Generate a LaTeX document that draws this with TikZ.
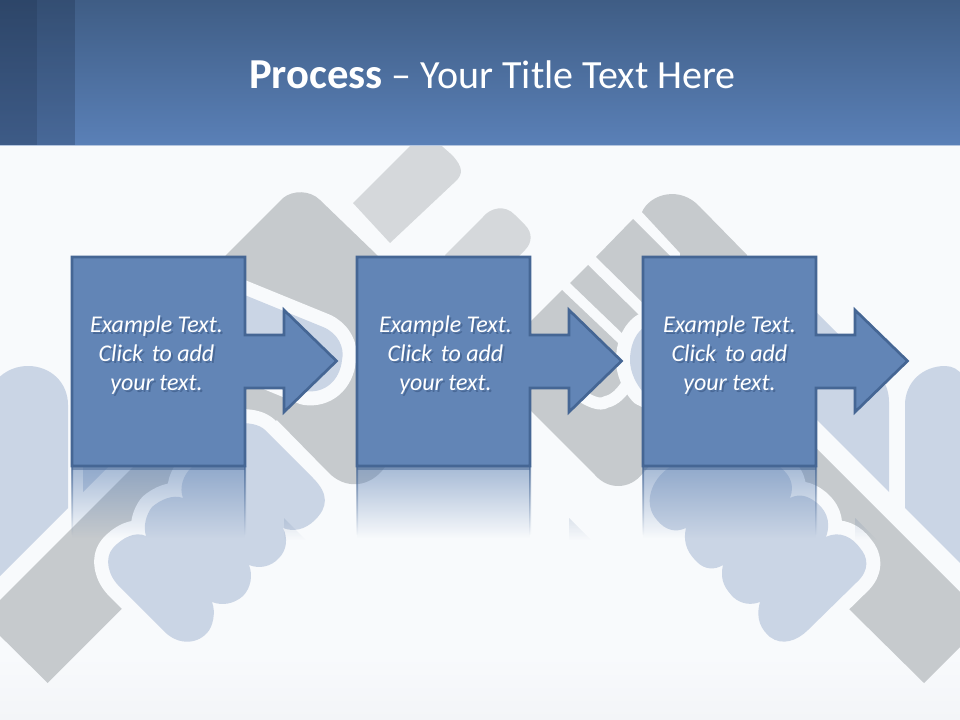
\documentclass[tikz,border=0pt]{standalone}
\usepackage{fontspec}
\setmainfont{Carlito}
\usetikzlibrary{fadings,shadings}
\definecolor{bgbot}{HTML}{F3F5F8}
\definecolor{bgc}{HTML}{F8FAFC}
\definecolor{hdtop}{HTML}{3F5D85}
\definecolor{hdbot}{HTML}{5A80B7}
\definecolor{strip}{HTML}{14243F}
\definecolor{greyA}{HTML}{C6CACD}
\definecolor{greyB}{HTML}{D5D8DB}
\definecolor{paleblue}{HTML}{CAD5E5}
\definecolor{boxfill}{HTML}{6285B6}
\definecolor{boxline}{HTML}{456694}
\definecolor{shadowc}{HTML}{25406A}
\tikzfading[name=reflfade, top color=transparent!45, bottom color=transparent!100]
\tikzfading[name=edgefade, top color=transparent!30, bottom color=transparent!100]
\tikzfading[name=trifade, top color=transparent!85, bottom color=transparent!100]
\tikzset{
  greyshape/.style={fill=greyA},
  lightshape/.style={fill=greyB},
  blueshape/.style={fill=paleblue},
  halo/.style={draw=bgc,line width=21pt,line join=round},
  boxarrow/.style={fill=boxfill,draw=boxline,line width=2pt,line join=miter},
  bodytext/.style={text=white,align=center,inner sep=0pt,font=\fontsize{18}{21.75}\selectfont\itshape},
  bodyshadow/.style={text=shadowc,text opacity=.4,align=center,inner sep=0pt,font=\fontsize{18}{21.75}\selectfont\itshape},
  reflect/.style={fill=boxfill,path fading=reflfade},
  reflectedge/.style={fill=boxline,path fading=edgefade},
  reflecttri/.style={fill=boxline,path fading=trifade},
}
\newcommand{\bodylines}{Example Text.\\Click\hspace{2.5pt} to add\\your text.}
\newcommand{\leftfist}{(200,440) -- (192,467)
 .. controls (183,475) and (179,488) .. (183,498)
 .. controls (173,494) and (160,500) .. (152,507)
 .. controls (146,515) and (143,526) .. (146,536)
 .. controls (135,531) and (122,538) .. (113,548)
 .. controls (104,558) and (108,576) .. (120,587)
 -- (163,630) .. controls (175,644) and (195,646) .. (207,633)
 .. controls (213,627) and (216,612) .. (212,602)
 .. controls (222,606) and (234,604) .. (243,596)
 .. controls (251,588) and (253,575) .. (249,565)
 .. controls (259,569) and (271,567) .. (279,558)
 .. controls (287,550) and (288,538) .. (283,528)
 .. controls (293,532) and (305,530) .. (315,520)
 .. controls (328,507) and (329,494) .. (313,478)
 -- (267,432) .. controls (262,426) and (254,423) .. (240,423) -- cycle}
\newcommand{\rightfist}{(690,440) -- (670,467)
 .. controls (650,480) and (643,505) .. (657,520)
 .. controls (665,530) and (675,533) .. (686,528)
 .. controls (682,545) and (690,555) .. (697,562)
 .. controls (705,570) and (715,570) .. (723,565)
 .. controls (719,582) and (727,590) .. (733,597)
 .. controls (742,605) and (752,605) .. (760,602)
 .. controls (755,620) and (762,630) .. (770,637)
 .. controls (782,646) and (797,641) .. (808,630)
 -- (857,582) .. controls (870,570) and (868,557) .. (860,548)
 .. controls (853,538) and (840,530) .. (826,537)
 .. controls (832,520) and (825,508) .. (813,500)
 .. controls (805,495) and (798,494) .. (790,498)
 .. controls (795,485) and (790,475) .. (780,467)
 -- (760,440) -- cycle}
\newcommand{\leftthumb}{(225,287) -- (323,327)
 .. controls (338,333) and (345,348) .. (342,360)
 .. controls (340,380) and (325,394) .. (305,391)
 -- (225,358) -- cycle}
\newcommand{\rightthumb}{(660,318) -- (643,328)
 .. controls (634,335) and (630,348) .. (630,360)
 .. controls (630,372) and (636,384) .. (643,392)
 -- (660,400) -- cycle}
\begin{document}
\begin{tikzpicture}[x=.75pt,y=-.75pt]
\useasboundingbox (0,0) rectangle (960,720);
% page
\fill[bgc] (0,0) rectangle (960,720);
\shade[top color=bgc,bottom color=bgbot] (0,655) rectangle (960,720);
% pale bars
\fill[blueshape] (-12,588) -- (68,508) -- (68,405) .. controls (68,382) and (50,366) .. (28,366) .. controls (8,366) and (-12,380) .. (-12,405) -- cycle;
\fill[blueshape] (83,400) -- (83,492) -- (170,405) -- (170,400) -- cycle;
\fill[blueshape] (800,296) -- (862,358) .. controls (880,372) and (889,385) .. (889,402) -- (889,492) -- (800,403) -- cycle;
\fill[blueshape] (970,405) -- (970,573) -- (905,508) -- (905,405) .. controls (905,382) and (923,366) .. (945,366) .. controls (960,366) and (970,380) .. (970,405) -- cycle;
% light grey bars
\fill[lightshape] (353,203) -- (415,141) -- (435,140) -- (452,155) .. controls (464,168) and (462,174) .. (457,180) -- (390,243) -- cycle;
\fill[lightshape] (445,255) -- (483,217) .. controls (490,208) and (505,204) .. (515,215) -- (525,225) .. controls (533,233) and (532,243) .. (525,250) -- (510,265) -- (450,265) -- cycle;
% grey hands
\fill[greyshape] (-18,618) -- (133,467) -- (160,420) -- (200,300) -- (226,255) -- (283,198)
  .. controls (293,190) and (310,190) .. (320,200) -- (377,255) -- (420,300) -- (420,420) -- (385,467)
  .. controls (370,488) and (345,490) .. (328,472) -- (277,420) -- (190,480) -- (190,540) -- (121.7,609) -- (47.7,683) -- cycle;
\fill[greyshape] (642,212) .. controls (650,194) and (680,185) .. (700,207) -- (747,255) -- (747,300) -- (680,300) -- (680,253) -- cycle;
\fill[greyshape] (596,257) -- (633,219) -- (700,286) -- (660,320) -- (643,303) -- cycle;
\fill[greyshape] (570,283) -- (588,265) -- (639,315) -- (622,333) -- cycle;
\fill[greyshape] (500,352) -- (562,290) -- (620,345) -- (660,400) -- (660,455) -- (643,473)
  .. controls (630,490) and (608,490) .. (595,475) -- (530,410) -- cycle;
\fill[greyshape] (816,448) -- (965,597) -- (965,642) -- (924,683) -- (850,610) -- (790,540) -- (780,470) -- cycle;
% white arc round the finger tip
\draw[draw=bgc,line width=9pt,line cap=butt] (575,392) .. controls (590,402) and (600,406) .. (606,402) .. controls (615,400) and (622,393) .. (630,380);
% thumbs and fists with pale outlines
\draw[halo] \leftthumb;
\fill[blueshape] \leftthumb;
\draw[halo] \rightthumb;
\fill[blueshape] \rightthumb;
\draw[halo] \leftfist;
\fill[blueshape] \leftfist;
\draw[halo] \rightfist;
\fill[blueshape] \rightfist;
% header
\shade[top color=hdtop,bottom color=hdbot] (0,0) rectangle (960,145);
\fill[strip,opacity=.4] (0,0) rectangle (37,145);
\fill[strip,opacity=.25] (37,0) rectangle (75,145);
\fill[fill=hdbot!45!white] (0,145) rectangle (960,146.2);
\node[text=white,inner sep=0pt,anchor=base] (title) at (492.5,88.5) {\fontsize{32}{36}\selectfont\textbf{Process}\fontsize{30}{36}\selectfont\ – Your Title Text Here};
% reflections
\fill[reflect] (72,466) rectangle (245,538);
\fill[reflect] (357,466) rectangle (530,538);
\fill[reflect] (643,466) rectangle (816,538);
\fill[reflectedge] (71,466) rectangle (73,535) (244,466) rectangle (246,535);
\fill[reflectedge] (356,466) rectangle (358,535) (529,466) rectangle (531,535);
\fill[reflectedge] (642,466) rectangle (644,535) (815,466) rectangle (817,535);
\fill[boxline,opacity=.5] (72,466) rectangle (245,470);
\fill[boxline,opacity=.5] (357,466) rectangle (530,470);
\fill[boxline,opacity=.5] (643,466) rectangle (816,470);
\fill[reflecttri] (284,518) -- (306,540) -- (284,540) -- cycle;
\fill[reflecttri] (569,518) -- (591,540) -- (569,540) -- cycle;
\fill[reflecttri] (855,518) -- (877,540) -- (855,540) -- cycle;
% process boxes
\draw[boxarrow] (72,257) -- (245,257) -- (245,335) -- (284,335) -- (284,310) -- (336.5,361) -- (284,412) -- (284,388) -- (245,388) -- (245,466) -- (72,466) -- cycle;
\draw[boxarrow] (357,257) -- (530,257) -- (530,335) -- (569,335) -- (569,310) -- (621.5,361) -- (569,412) -- (569,388) -- (530,388) -- (530,466) -- (357,466) -- cycle;
\draw[boxarrow] (643,257) -- (816,257) -- (816,335) -- (855,335) -- (855,310) -- (907.5,361) -- (855,412) -- (855,388) -- (816,388) -- (816,466) -- (643,466) -- cycle;
% text shadows, as the reference's texts have them
\node[bodyshadow] (s1) at (158.5,357.5) {\bodylines};
\node[bodyshadow] (s2) at (447.5,357.5) {\bodylines};
\node[bodyshadow] (s3) at (731.5,357.5) {\bodylines};
% texts
\node[bodytext] (t1) at (156.5,355) {\bodylines};
\node[bodytext] (t2) at (445.5,355) {\bodylines};
\node[bodytext] (t3) at (729.5,355) {\bodylines};
\end{tikzpicture}
\end{document}
